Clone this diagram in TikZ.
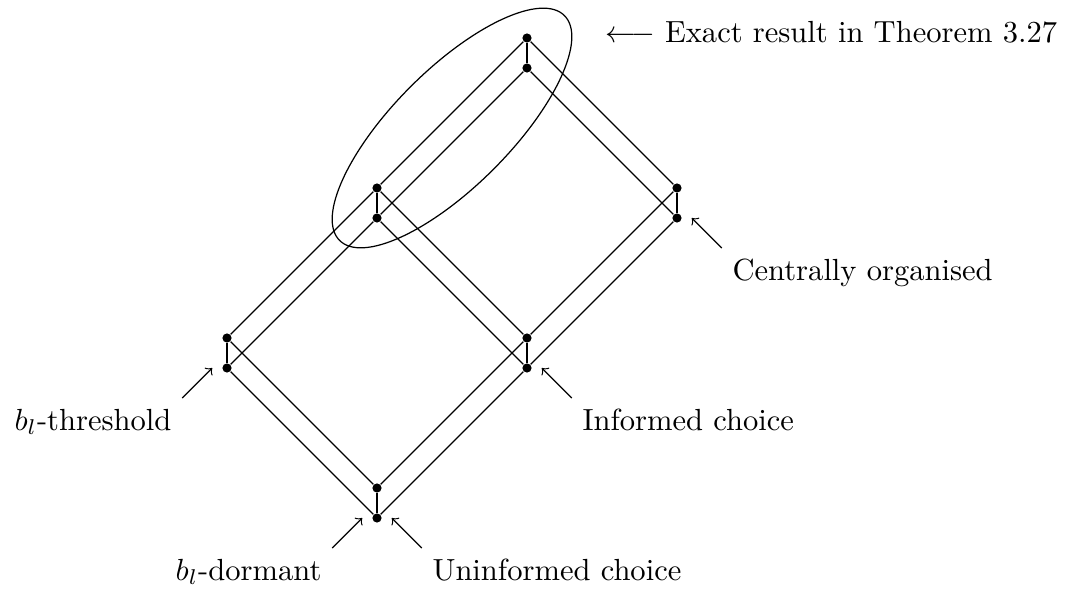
\documentclass[tikz,border=0pt]{standalone}
\usetikzlibrary{positioning}

\begin{document}
\begin{tikzpicture}[x=0.345cm,y=0.345cm,node distance=0.345cm,on grid,
	dot/.style={circle,fill,inner sep=0pt,minimum size=3pt}]
	\useasboundingbox (-12.567,-2.467) rectangle (23.1,17.267);
	
	% lower layer
	\node[dot] (b2) at (0,0) {};
	\node[dot] (w2) at (-5,5) {};
	\node[dot] (m2) at (5,5) {};
	\node[dot] (l2) at (0,10) {};
	\node[dot] (r2) at (10,10) {};
	\node[dot] (t2) at (5,15) {};
	% upper layer
	\node[dot] (b1) [above=of b2] {};
	\node[dot] (w1) [above=of w2] {};
	\node[dot] (m1) [above=of m2] {};
	\node[dot] (l1) [above=of l2] {};
	\node[dot] (r1) [above=of r2] {};
	\node[dot] (t1) [above=of t2] {};
	
	\path[draw]
	(t1) -- (l1) -- (w1) -- (b1) -- (m1) -- (r1) -- (t1)
	(l1) -- (m1)
	(t2) -- (l2) -- (w2) -- (b2) -- (m2) -- (r2) -- (t2)
	(l2) -- (m2);
	\foreach \n in {t,l,r,w,m,b}
		\draw (\n1) -- (\n2);
	
	\draw[rotate around={45:(2.5,13)}] (2.5,13) ellipse (5.3 and 1.95);
	\node[right=0.78cm of t1, yshift=-0.046cm, anchor=base west] (ex) {$\longleftarrow$ Exact result in Theorem 3.27};
	
	% labels
	\coordinate[right=0.17cm of r2] (co tip);
	\node[below right=0.345cm and 0.345cm of co tip, anchor=north west] (co) {Centrally organised};
	\draw[->] (co.north west) -- (co tip);
	
	\coordinate[right=0.17cm of m2] (ic tip);
	\node[below right=0.345cm and 0.345cm of ic tip, anchor=north west] (ic) {Informed choice};
	\draw[->] (ic.north west) -- (ic tip);
	
	\coordinate[left=0.17cm of w2] (th tip);
	\node[below left=0.345cm and 0.345cm of th tip, anchor=north east] (th) {$b_l$-threshold};
	\draw[->] (th.north east) -- (th tip);
	
	\coordinate[left=0.17cm of b2] (do tip);
	\node[below left=0.345cm and 0.345cm of do tip, anchor=north east] (do) {$b_l$-dormant};
	\draw[->] (do.north east) -- (do tip);
	
	\coordinate[right=0.17cm of b2] (uc tip);
	\node[below right=0.345cm and 0.345cm of uc tip, anchor=north west] (uc) {Uninformed choice};
	\draw[->] (uc.north west) -- (uc tip);
\end{tikzpicture}
\end{document}
